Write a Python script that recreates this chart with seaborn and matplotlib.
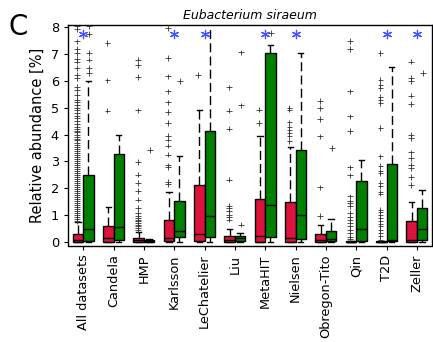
import matplotlib
matplotlib.use("Agg")
import matplotlib.pyplot as plt
import seaborn as sns
import pandas as pd

categories = ["All datasets", "Candela", "HMP", "Karlsson", "LeChatelier", "Liu",
              "MetaHIT", "Nielsen", "Obregon-Tito", "Qin", "T2D", "Zeller"]
groups = ["Control", "Case"]

# five-number summaries: whisker low, Q1, median, Q3, whisker high
red_lo  = [0, 0, 0, 0, 0, 0, 0, 0, 0, 0, 0, 0]
red_q1  = [0.0, 0.0, 0.0, 0.02, 0.02, 0.0, 0.0, 0.0, 0.0, 0.0, 0.0, 0.0]
red_med = [0.08, 0.15, 0.06, 0.15, 0.30, 0.06, 0.24, 0.15, 0.08, 0.0, 0.0, 0.08]
red_q3  = [0.30, 0.61, 0.15, 0.81, 2.11, 0.24, 1.61, 1.48, 0.30, 0.02, 0.02, 0.77]
red_hi  = [0.74, 1.30, 0.36, 1.87, 4.90, 0.50, 3.93, 3.52, 0.62, 0.05, 0.05, 1.48]

green_lo  = [0, 0, 0, 0, 0, 0, 0, 0, 0, 0, 0, 0]
green_q1  = [0.02, 0.09, 0.0, 0.19, 0.19, 0.02, 0.19, 0.12, 0.02, 0.02, 0.02, 0.08]
green_med = [0.48, 0.56, 0.03, 0.40, 0.96, 0.15, 1.39, 1.02, 0.11, 0.48, 0.06, 0.48]
green_q3  = [2.51, 3.28, 0.08, 1.51, 4.14, 0.24, 7.03, 3.41, 0.42, 2.26, 2.90, 1.27]
green_hi  = [6.00, 4.00, 0.12, 3.19, 8.30, 0.35, 7.35, 7.03, 0.87, 3.04, 6.50, 1.92]

red_fliers = [
    [0.78, 0.85, 0.92, 1.0, 1.07, 1.15, 1.22, 1.3, 1.38, 1.45, 1.52, 1.6, 1.68, 1.75,
     1.83, 1.9, 1.98, 2.05, 2.12, 2.2, 2.28, 2.35, 2.42, 2.5, 2.58, 2.65, 2.72, 2.8,
     2.88, 2.95, 3.02, 3.1, 3.18, 3.25, 3.32, 3.4, 3.48, 3.55, 3.62, 3.7, 3.78, 3.85,
     3.92, 4.0, 4.08, 4.15, 4.22, 4.3, 4.4, 4.5, 4.6, 4.7, 4.8, 4.9, 5.0, 5.1, 5.2,
     5.3, 5.48, 5.67, 5.79, 6.1, 6.23, 6.48, 6.72, 6.81, 7.03, 7.18, 7.47, 7.93, 8.05],
    [4.89, 6.02, 7.41],
    [0.45, 0.52, 0.6, 0.65, 0.72, 0.77, 0.83, 0.89, 0.98, 1.08, 1.27, 1.58, 1.89,
     2.2, 2.51, 2.97, 4.9, 6.14, 6.6, 6.79],
    [2.16, 2.23, 2.78, 2.85, 3.25, 3.59, 3.81, 3.96, 4.43, 4.84, 5.2, 5.61, 6.17, 6.85, 7.97],
    [6.23],
    [0.83, 0.93, 1.02, 1.14, 1.27, 1.35, 2.32, 4.22, 4.89, 5.76],
    [4.43, 4.93],
    [3.75, 3.93, 4.06, 4.18, 4.28, 4.45, 4.93, 4.99],
    [0.96, 2.03, 3.93, 4.58, 4.99, 5.24],
    [0.1, 0.2, 0.33, 0.46, 0.58, 0.7, 0.83, 0.93, 1.08, 1.33, 1.45, 1.51, 1.7, 2.48,
     2.78, 4.14, 4.68, 5.61, 7.18, 7.49],
    [0.09, 0.21, 0.33, 0.46, 0.58, 0.68, 0.79, 0.89, 1.02, 1.1, 1.2, 1.8, 1.85, 2.07,
     2.2, 2.57, 2.63, 2.82, 3.19, 4.24, 5.17, 5.3, 5.4, 5.73, 5.86, 6.04, 7.03],
    [2.13, 2.42, 2.75, 2.88, 3.13, 3.34, 3.87, 3.99, 5.14, 5.45, 6.0, 6.1, 6.72],
]
green_fliers = [
    [6.29, 6.48, 6.79, 7.03, 7.75, 8.05],
    [],
    [3.41],
    [6.0],
    [],
    [0.65, 5.09, 7.06],
    [7.78],
    [],
    [3.5],
    [],
    [],
    [6.29],
]

significant = ["All datasets", "Karlsson", "LeChatelier", "MetaHIT", "Nielsen", "T2D", "Zeller"]
star_level = 7.75

red_color = "#DC143C"
green_color = "#008000"

# ---- build tables
rows = []
for i, cat in enumerate(categories):
    for v in (red_lo[i], red_q1[i], red_med[i], red_q3[i], red_hi[i]):
        rows.append((cat, groups[0], v))
    for v in (green_lo[i], green_q1[i], green_med[i], green_q3[i], green_hi[i]):
        rows.append((cat, groups[1], v))
box_df = pd.DataFrame(rows, columns=["dataset", "group", "value"])

frows = []
for i, cat in enumerate(categories):
    for v in red_fliers[i]:
        frows.append((cat, groups[0], v))
    for v in green_fliers[i]:
        frows.append((cat, groups[1], v))
flier_df = pd.DataFrame(frows, columns=["dataset", "group", "value"])

star_df = pd.DataFrame({"dataset": significant, "value": [star_level] * len(significant)})

# ---- figure
fig = plt.figure(figsize=(4.33, 3.42), dpi=100)
ax = fig.add_axes([68 / 433, 1 - 245.5 / 342, (432 - 68) / 433, (245.5 - 25) / 342])

sns.boxplot(data=box_df, x="dataset", y="value", hue="group", order=categories,
            hue_order=groups, palette=[red_color, green_color], saturation=1,
            width=0.7, whis=(0, 100), linecolor="black", linewidth=1,
            showfliers=False, legend=False, ax=ax,
            whiskerprops=dict(linestyle=(0, (6.5, 3))))

sns.stripplot(data=flier_df, x="dataset", y="value", hue="group", order=categories,
              hue_order=groups, palette=["#333333", "#333333"], dodge=True, jitter=False,
              marker="+", size=4, linewidth=0.6, legend=False, ax=ax, zorder=3)

sns.stripplot(data=star_df, x="dataset", y="value", order=categories, color="#4455ff",
              marker=(6, 2, 0), size=6, linewidth=0.9, jitter=False, ax=ax, zorder=4)

ax.set_xlim(-0.5, 11.5)
ax.set_ylim(-0.13, 8.08)
ax.set_yticks(range(0, 9))
ax.set_xlabel("")
ax.set_ylabel("Relative abundance [%]", fontsize=10.5)
ax.set_title("Eubacterium siraeum", fontsize=9, style="italic", pad=4)
ax.tick_params(axis="both", direction="out", length=3, labelsize=9.3)
ax.tick_params(axis="x", rotation=90)
for s in ax.spines.values():
    s.set_linewidth(1)
    s.set_color("black")

fig.text(0.02, 0.962, "C", fontsize=20, va="top", ha="left")

fig.savefig("out.png", dpi=100)
